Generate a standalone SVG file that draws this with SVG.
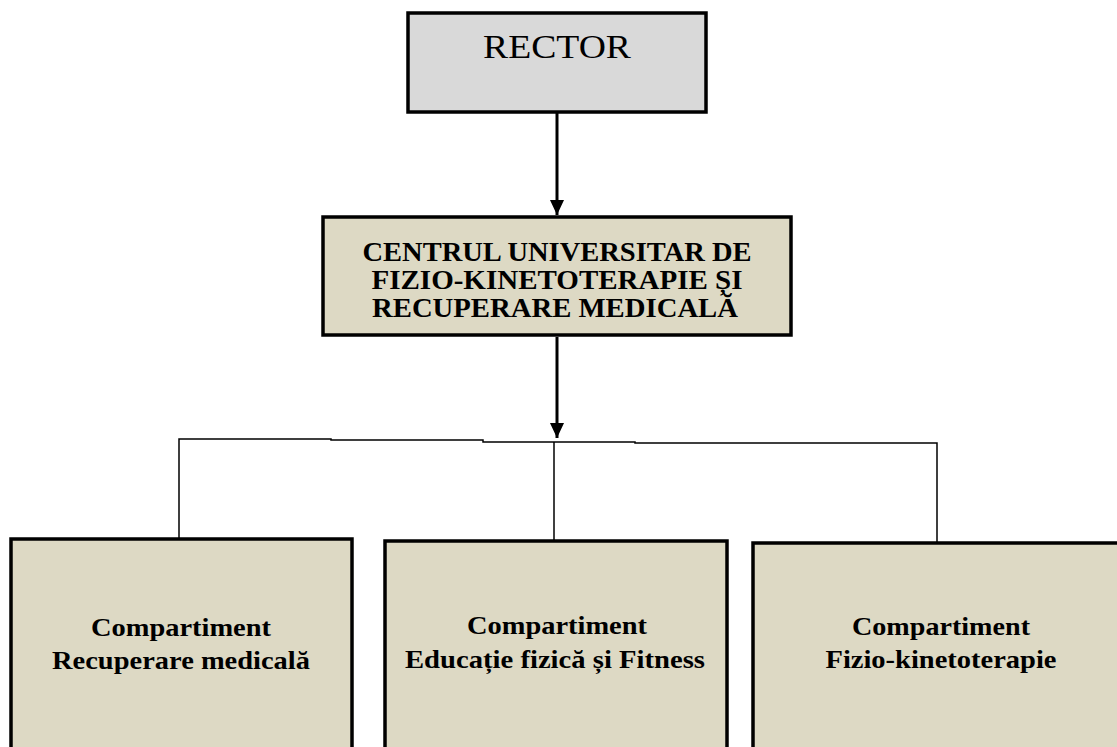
<svg xmlns="http://www.w3.org/2000/svg" width="1117" height="747" viewBox="0 0 1117 747">
<style>
.box{stroke:#000;stroke-width:3.5;}
.rector{fill:#d9d9d9;}
.unit{fill:#ddd9c4;}
.t{font-family:"Liberation Serif","Times New Roman",serif;fill:#000;text-anchor:middle;}
.b{font-weight:bold;}
.thick{stroke:#000;stroke-width:3;fill:none;}
.thin{stroke:#000;stroke-width:1.5;fill:none;}
</style>
<defs>
<marker id="arr" markerUnits="userSpaceOnUse" markerWidth="16" markerHeight="14" refX="15" refY="7" orient="auto">
<path d="M0,0 L15,7 L0,14 Z" fill="#000"/>
</marker>
</defs>
<rect width="1117" height="747" fill="#fff"/>
<g id="connectors">
<line class="thick" x1="557" y1="113" x2="557" y2="215" marker-end="url(#arr)"/>
<line class="thick" x1="557" y1="337" x2="557" y2="438" marker-end="url(#arr)"/>
<path class="thin" d="M179,538 V439 H331 V440 H483 V442 H635 V443 H937 V543"/>
<line class="thin" x1="554" y1="442" x2="554" y2="540"/>
</g>
<g id="rector">
<rect class="box rector" x="408" y="13" width="298" height="99"/>
<text class="t" x="557" y="58" font-size="33" textLength="148" lengthAdjust="spacingAndGlyphs">RECTOR</text>
</g>
<g id="centru">
<rect class="box unit" x="323" y="217" width="468" height="118"/>
<text class="t b" x="557" y="261" font-size="27" textLength="389" lengthAdjust="spacingAndGlyphs">CENTRUL UNIVERSITAR DE</text>
<text class="t b" x="557" y="289" font-size="27" textLength="371" lengthAdjust="spacingAndGlyphs">FIZIO-KINETOTERAPIE ȘI</text>
<text class="t b" x="555" y="317" font-size="27" textLength="366" lengthAdjust="spacingAndGlyphs">RECUPERARE MEDICALĂ</text>
</g>
<g id="comp-recuperare">
<rect class="box unit" x="11" y="539" width="341" height="260"/>
<text class="t b" x="181" y="636" font-size="26" textLength="180" lengthAdjust="spacingAndGlyphs">Compartiment</text>
<text class="t b" x="181" y="669" font-size="26" textLength="258" lengthAdjust="spacingAndGlyphs">Recuperare medicală</text>
</g>
<g id="comp-educatie">
<rect class="box unit" x="385" y="541" width="342" height="260"/>
<text class="t b" x="557" y="634" font-size="26" textLength="180" lengthAdjust="spacingAndGlyphs">Compartiment</text>
<text class="t b" x="555" y="668" font-size="26" textLength="300" lengthAdjust="spacingAndGlyphs">Educație fizică și Fitness</text>
</g>
<g id="comp-fizio">
<rect class="box unit" x="753" y="543" width="400" height="260"/>
<text class="t b" x="941" y="635" font-size="26" textLength="178" lengthAdjust="spacingAndGlyphs">Compartiment</text>
<text class="t b" x="941" y="668" font-size="26" textLength="231" lengthAdjust="spacingAndGlyphs">Fizio-kinetoterapie</text>
</g>
</svg>
